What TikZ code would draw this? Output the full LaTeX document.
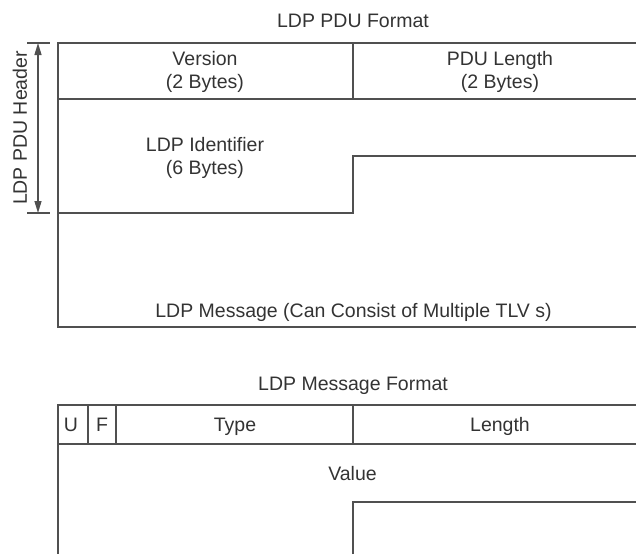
\documentclass[tikz,border=0pt]{standalone}
\usepackage{fontspec}
\setmainfont{Liberation Sans}
\usetikzlibrary{arrows.meta}
\definecolor{ln}{HTML}{505050}
\definecolor{tx}{HTML}{333333}
\begin{document}
\begin{tikzpicture}[x=1pt,y=-1pt,
  rule/.style={draw=ln, line width=1.5pt},
  thin rule/.style={draw=ln, line width=1.3pt},
  lbl/.style={text=tx, font=\fontsize{19.5}{22.5}\selectfont, align=center, inner sep=0pt},
  dimarrow/.style={thin rule, {Triangle[length=12pt,width=7pt]}-{Triangle[length=12pt,width=7pt]}},
]
\useasboundingbox (0,0) rectangle (636,554);
% ---------- LDP PDU Format ----------
\node[lbl, anchor=base] (t1) at (353,27) {LDP PDU Format};
\draw[rule] (636,43) -- (58,43) -- (58,327) -- (636,327);
\draw[rule] (58,99) -- (636,99);
\draw[rule] (353,43) -- (353,99);
\draw[rule] (58,213) -- (353,213) -- (353,156) -- (636,156);
\node[lbl] (ver) at (205,72) {Version\\(2 Bytes)};
\node[lbl] (len) at (500,72) {PDU Length\\(2 Bytes)};
\node[lbl] (lid) at (205,158) {LDP Identifier\\(6 Bytes)};
\node[lbl, anchor=base] (msg) at (353.5,317) {LDP Message (Can Consist of Multiple TLV s)};
% header dimension
\coordinate (ht) at (38,43);
\coordinate (hb) at (38,213);
\draw[thin rule] (27,43) -- (50,43);
\draw[thin rule] (27,213) -- (50,213);
\draw[dimarrow] (ht) -- (hb);
\node[lbl, rotate=90] (hdr) at (20,128) {LDP PDU Header};
% ---------- LDP Message Format ----------
\node[lbl, anchor=base] (t2) at (353,390) {LDP Message Format};
\draw[rule] (636,405) -- (58,405) -- (58,554);
\draw[rule] (58,444) -- (636,444);
\draw[rule] (88,405) -- (88,444);
\draw[rule] (116,405) -- (116,444);
\draw[rule] (353,405) -- (353,444);
\draw[rule] (353,554) -- (353,502) -- (636,502);
\node[lbl, anchor=base] (u) at (71,431) {U};
\node[lbl, anchor=base] (f) at (102,431) {F};
\node[lbl, anchor=base] (typ) at (235,431) {Type};
\node[lbl, anchor=base] (lng) at (500,431) {Length};
\node[lbl, anchor=base] (val) at (352.5,480) {Value};
\end{tikzpicture}
\end{document}
